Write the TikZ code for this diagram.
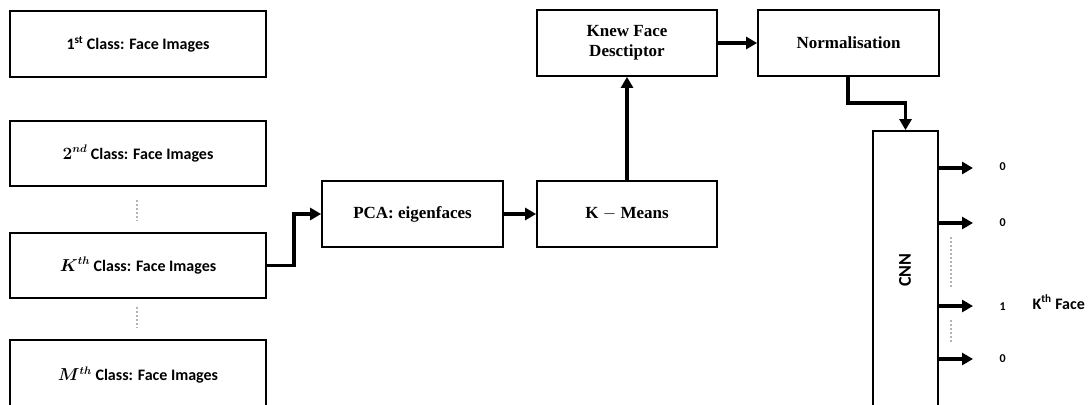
\documentclass[tikz,border=0pt]{standalone}
\usepackage{bm}
\usepackage{fontspec}
\setmainfont{Liberation Serif}
\newfontfamily\calib{Carlito}
\usetikzlibrary{arrows.meta}
\tikzset{
  box/.style={draw, line width=1.8pt, fill=white, inner sep=0pt, align=center},
  sbox/.style={box, font=\calib\bfseries\fontsize{16}{19}\selectfont},
  mbox/.style={box, font=\bfseries\fontsize{17}{20}\selectfont},
  flow/.style={line width=3.6pt, -{Triangle[length=11pt,width=12pt]}},
  dots/.style={line width=2.4pt, gray!60, dash pattern=on 2pt off 2pt},
  outlab/.style={font=\calib\bfseries\fontsize{12}{14}\selectfont, anchor=west},
}
\begin{document}
\begin{tikzpicture}[x=1pt,y=-1pt]
\useasboundingbox (0,0) rectangle (1091,404);
% left class boxes
\node[sbox, minimum width=256pt, minimum height=66pt] (c1) at (138,44) {1\textsuperscript{st} Class: Face Images};
\node[sbox, minimum width=256pt, minimum height=65pt] (c2) at (138,153.5) {$\bm{2^{nd}}$ Class: Face Images};
\node[sbox, minimum width=256pt, minimum height=65pt] (ck) at (138,265.5) {$\bm{K^{th}}$ Class: Face Images};
\node[sbox, minimum width=256pt, minimum height=70pt] (cm) at (138,375) {$\bm{M^{th}}$ Class: Face Images};
\coordinate (d1a) at (137,200); \coordinate (d1b) at (137,221);
\coordinate (d2a) at (137,307); \coordinate (d2b) at (137,328);
\draw[dots] (d1a) -- (d1b);
\draw[dots] (d2a) -- (d2b);
% middle
\node[mbox, minimum width=181pt, minimum height=66pt] (pca) at (412.5,214) {PCA: eigenfaces};
\node[mbox, minimum width=180pt, minimum height=66pt] (km) at (627,214) {K $-$ Means};
\node[mbox, minimum width=180pt, minimum height=66pt] (kf) at (627,43) {Knew Face\\Desctiptor};
\node[mbox, minimum width=181pt, minimum height=66pt] (nm) at (848.5,43) {Normalisation};
\node[box, minimum width=65pt, minimum height=290pt] (cnn) at (905.5,276) {};
\node[font=\calib\bfseries\fontsize{18}{20}\selectfont, rotate=90] (cnnl) at (905,270) {CNN};
% connectors
\draw[flow] (ck.east) -- ++(27,0) |- (pca.west);
\draw[flow] (pca.east) -- (km.west);
\draw[flow] (km.north) -- (kf.south);
\draw[flow] (kf.east) -- (nm.west);
\coordinate (nmb) at (848,103);
\draw[flow] (nm.south -| nmb) -- (nmb) -| (cnn.north);
% outputs
\coordinate (o1) at (973,168); \coordinate (o2) at (973,223);
\coordinate (o3) at (973,306); \coordinate (o4) at (973,359);
\draw[flow] (cnn.east |- o1) -- (o1);
\draw[flow] (cnn.east |- o2) -- (o2);
\draw[flow] (cnn.east |- o3) -- (o3);
\draw[flow] (cnn.east |- o4) -- (o4);
\node[outlab] (l1) at (996,167) {0};
\node[outlab] (l2) at (996,223) {0};
\node[outlab] (l3) at (996,307) {1};
\node[outlab] (l4) at (996,359) {0};
\node[font=\calib\bfseries\fontsize{16}{18}\selectfont, anchor=west] (kface) at (1029,302) {K\textsuperscript{th} Face};
\coordinate (d3a) at (951,237); \coordinate (d3b) at (951,288);
\coordinate (d4a) at (951,320); \coordinate (d4b) at (951,342);
\draw[dots] (d3a) -- (d3b);
\draw[dots] (d4a) -- (d4b);
\end{tikzpicture}
\end{document}
